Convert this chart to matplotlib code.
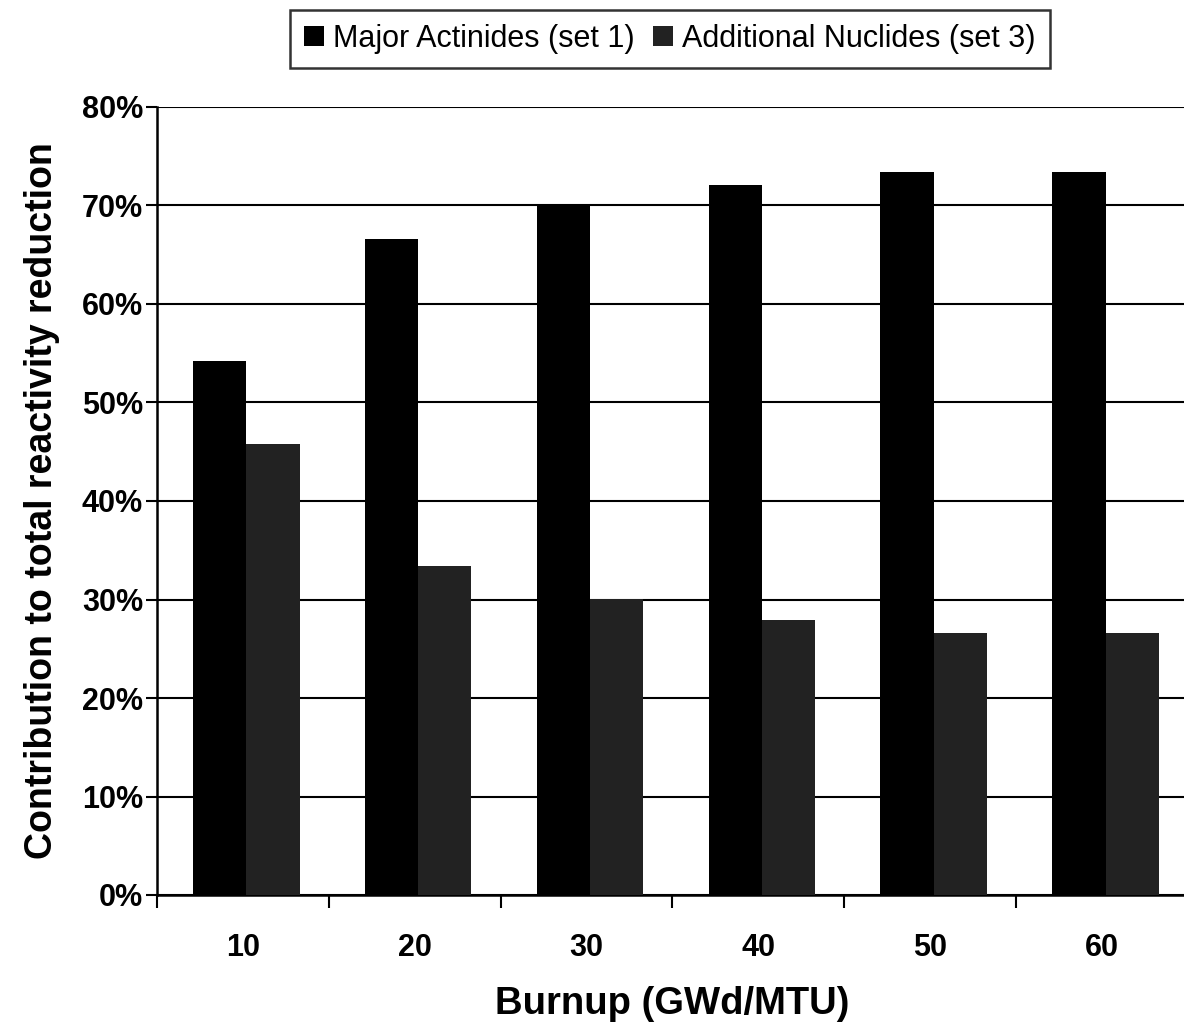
import numpy as np
from matplotlib import pyplot as plt
from matplotlib.ticker import PercentFormatter

burnup = ['10', '20', '30', '40', '50', '60']
major_actinides = [54.2, 66.6, 70.0, 72.1, 73.4, 73.4]
additional_nuclides = [45.8, 33.4, 30.1, 27.9, 26.6, 26.6]

plt.rcParams['font.family'] = ['Liberation Sans', 'DejaVu Sans']

fig = plt.figure(figsize=(11.84, 10.28), dpi=100)
ax = fig.add_axes([157/1184, 133/1028, 1031/1184, 788/1028])

x = np.arange(len(burnup))
w = 0.31
ax.bar(x - w/2 + 0.02, major_actinides, w, color='black', zorder=3,
       label='Major Actinides (set 1)')
ax.bar(x + w/2 + 0.02, additional_nuclides, w, color='#222222', zorder=3,
       label='Additional Nuclides (set 3)')

ax.set_xlim(-0.5, len(burnup) - 0.5)
ax.set_ylim(0, 80)
ax.set_yticks(np.arange(0, 81, 10))
ax.yaxis.set_major_formatter(PercentFormatter(decimals=0))
ax.yaxis.grid(True, color='black', linewidth=1.5, zorder=0)
ax.set_axisbelow(True)

# labels in the middle of each group, ticks on the group boundaries
ax.set_xticks(x)
ax.set_xticklabels(burnup)
ax.set_xticks(np.arange(-0.5, len(burnup)), minor=True)
ax.tick_params(axis='x', which='major', length=0, pad=27, labelsize=22)
ax.tick_params(axis='x', which='minor', length=9, width=1.5, direction='out')
ax.tick_params(axis='y', length=8, width=1.5, labelsize=22, pad=2)
for lab in ax.get_xticklabels() + ax.get_yticklabels():
    lab.set_fontweight('bold')

for s in ['top', 'right']:
    ax.spines[s].set_visible(False)
for s in ['left', 'bottom']:
    ax.spines[s].set_linewidth(1.8)

ax.set_xlabel('Burnup (GWd/MTU)', fontsize=27.5, fontweight='bold', labelpad=17)
ax.set_ylabel('Contribution to total reactivity reduction', fontsize=27,
              fontweight='bold', labelpad=16)

leg = fig.legend(loc='upper center', bbox_to_anchor=(670/1184, 1 - 10/1028),
                 ncol=2, fontsize=22, frameon=True, fancybox=False,
                 handlelength=0.65, handleheight=0.65, handletextpad=0.3,
                 columnspacing=0.6, borderpad=0.45, borderaxespad=0)
leg.get_frame().set_edgecolor('black')
leg.get_frame().set_linewidth(1.8)

fig.savefig('out.png', dpi=100)
